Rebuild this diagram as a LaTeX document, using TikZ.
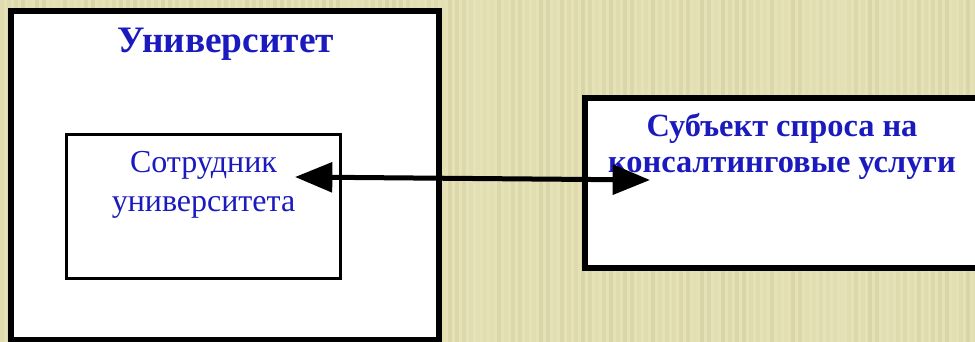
\documentclass[tikz,border=0pt]{standalone}
\usepackage{fontspec}
\setmainfont{Liberation Serif}
\usetikzlibrary{arrows.meta,positioning}
\definecolor{textblue}{RGB}{26,26,190}
\definecolor{paper}{RGB}{230,226,183}
\definecolor{paperline}{RGB}{198,194,146}

\begin{document}
\begin{tikzpicture}[x=0.75pt,y=-0.75pt,
        box/.style={draw=black, fill=white, rectangle, inner sep=0pt},
        boldlabel/.style={text=textblue, font=\bfseries\fontsize{24.3}{27}\selectfont, align=center},
        link/.style={line width=3.75pt, {Triangle[length=28pt,width=22pt]}-{Triangle[length=28pt,width=22pt]}}]
        % Background
        \useasboundingbox (0,0) rectangle (975,342);
        \fill[paper] (0,0) rectangle (975,342);
        \pgfmathsetseed{12}
        \foreach \x in {2,9,...,975} {
            \pgfmathsetmacro\op{0.05+0.35*rnd}
            \draw[paperline, line width=2.5pt, opacity=\op] (\x,0) -- (\x,342);
        }

        % University
        \node[box, line width=4.5pt, minimum width=321pt, minimum height=246.75pt] (univ) at (225,175.5) {};
        \node[boldlabel, font=\bfseries\fontsize{28}{30}\selectfont, anchor=base] (univText) at (226,53) {Университет};

        % Staff member
        \node[box, line width=2.25pt, minimum width=205.5pt, minimum height=108pt] (staff) at (203.5,206.5) {};
        \node[text=textblue, font=\fontsize{24}{29.25}\selectfont, align=center, anchor=base] (staffText) at (203.5,212) {Сотрудник\\университета};

        % Client
        \node[box, line width=4.5pt, minimum width=310.9pt, minimum height=127.5pt] (client) at (792.75,183) {};
        \node[boldlabel, anchor=base] (clientText) at (782,173) {Субъект спроса на\\консалтинговые услуги};

        % Link
        \coordinate (staffEnd) at (295,177);
        \coordinate (clientEnd) at (650,180);
        \draw[link] (staffEnd) -- (clientEnd);
    \end{tikzpicture}
\end{document}
